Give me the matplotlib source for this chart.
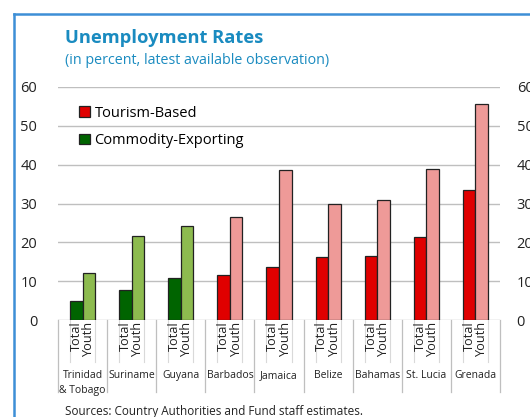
import numpy as np
import matplotlib
matplotlib.use("Agg")
import matplotlib.pyplot as plt
from matplotlib.patches import Patch
from matplotlib.lines import Line2D

plt.rcParams["font.family"] = ["Open Sans", "DejaVu Sans"]

# Unemployment data (percent)
countries = ["Trinidad\n& Tobago", "Suriname", "Guyana", "Barbados", "Jamaica",
             "Belize", "Bahamas", "St. Lucia", "Grenada"]
total_rate = [5.0, 7.7, 10.7, 11.6, 13.6, 16.1, 16.4, 21.5, 33.5]
youth_rate = [12.0, 21.6, 24.2, 26.4, 38.5, 30.0, 30.8, 38.8, 55.6]
group = ["commodity"] * 3 + ["tourism"] * 6

colors = {
    "commodity": ("#006400", "#8dbb4f"),
    "tourism": ("#e00000", "#ee9a98"),
}
title_blue = "#1a8bc0"
grid_gray = "#bfbfbf"

fig = plt.figure(figsize=(5.30, 4.17), dpi=100)
ax = fig.add_axes([58 / 530, 1 - 320 / 417, 442 / 530, 233 / 417])

x = np.arange(len(countries))
w = 0.255
for i in x:
    dark, light = colors[group[i]]
    ax.bar(i - w / 2, total_rate[i], w, color=dark, edgecolor="#222222", linewidth=0.9, zorder=3)
    ax.bar(i + w / 2, youth_rate[i], w, color=light, edgecolor="#222222", linewidth=0.9, zorder=3)

ax.set_xlim(-0.5, len(countries) - 0.5)
ax.set_ylim(0, 60)
ax.set_yticks(range(0, 61, 10))
ax.yaxis.grid(True, color=grid_gray, linewidth=1.0, zorder=0)
ax.set_axisbelow(True)
for s in ax.spines.values():
    s.set_visible(False)
ax.tick_params(axis="y", length=0, pad=15, labelsize=10.5, labelcolor="#222222")
ax.set_xticks([])

# right-hand copy of the value axis
ax2 = ax.twinx()
ax2.set_ylim(0, 60)
ax2.set_yticks(range(0, 61, 10))
for s in ax2.spines.values():
    s.set_visible(False)
ax2.tick_params(axis="y", length=0, pad=12, labelsize=10.5, labelcolor="#222222")

# two-level category axis drawn below the plot
trans = ax.get_xaxis_transform()
for b in np.arange(-0.5, len(countries), 1.0):
    ax.add_line(Line2D([b, b], [0, -0.31], transform=trans, color=grid_gray,
                       linewidth=0.9, clip_on=False))
for i in x:
    for edge in (i - w, i + w):
        ax.add_line(Line2D([edge, edge], [0, -0.18], transform=trans, color="#d9d9d9",
                           linewidth=0.8, clip_on=False))
    ax.text(i - w / 2, -0.008, "Total", transform=trans, rotation=90, ha="center",
            va="top", fontsize=9.2, color="#222222")
    ax.text(i + w / 2, -0.008, "Youth", transform=trans, rotation=90, ha="center",
            va="top", fontsize=9.2, color="#222222")
    ax.text(i, -0.215, countries[i], transform=trans, ha="center", va="top",
            fontsize=7.5, color="#222222", linespacing=1.45)

handles = [
    Patch(facecolor=colors["tourism"][0], edgecolor="#222222", linewidth=0.9),
    Patch(facecolor=colors["commodity"][0], edgecolor="#222222", linewidth=0.9),
]
ax.legend(handles, ["Tourism-Based", "Commodity-Exporting"], loc="upper left",
          bbox_to_anchor=(0.035, 0.945), frameon=False, fontsize=10.5,
          handlelength=0.75, handleheight=0.75, handletextpad=0.3,
          labelspacing=0.85, borderaxespad=0)

fig.text(65 / 530, 1 - 38 / 417, "Unemployment Rates", color=title_blue,
         fontsize=13.2, fontweight="bold", va="center", ha="left")
fig.text(65 / 530, 1 - 61 / 417, "(in percent, latest available observation)",
         color=title_blue, fontsize=10.3, va="center", ha="left")
fig.text(65 / 530, 1 - 411 / 417, "Sources: Country Authorities and Fund staff estimates.",
         color="#222222", fontsize=8.5, va="center", ha="left")

# panel border
border = "#3d8fd6"
fig.add_artist(Line2D([13.5 / 530, 13.5 / 530], [0, 1 - 14 / 417], transform=fig.transFigure,
                      color=border, linewidth=1.8))
fig.add_artist(Line2D([13.5 / 530, 1], [1 - 14 / 417, 1 - 14 / 417], transform=fig.transFigure,
                      color=border, linewidth=1.8))

fig.savefig("out.png", dpi=100)
